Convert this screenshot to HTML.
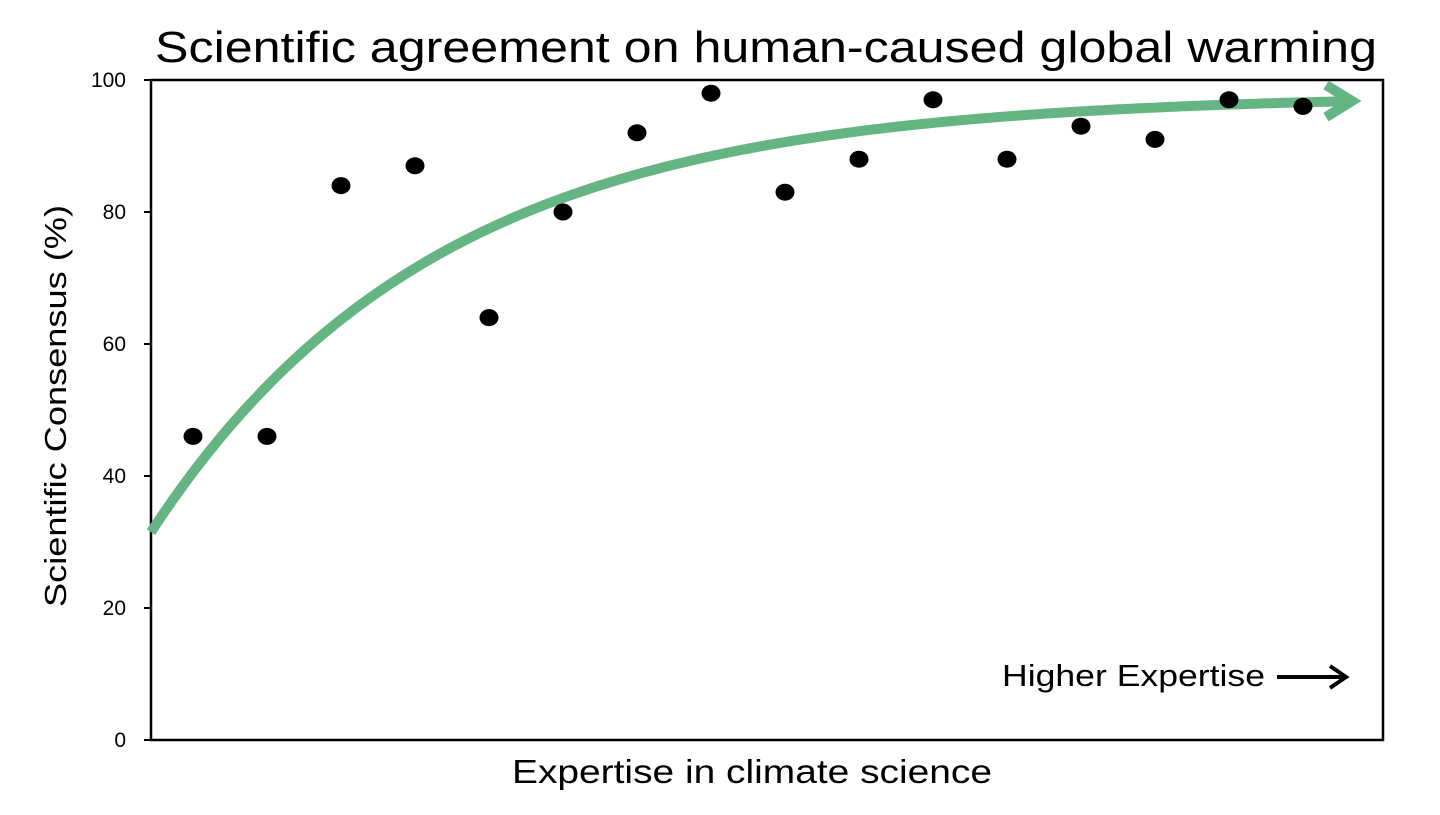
<!DOCTYPE html>
<html><head><meta charset="utf-8"><style>
html,body{margin:0;padding:0;background:#fff;}
svg text{font-family:"Liberation Sans",sans-serif;fill:#000;}
</style></head><body>
<svg id="chart" width="1440" height="810" viewBox="0 0 1440 810">
<text x="155" y="62" font-size="44" textLength="1222" lengthAdjust="spacingAndGlyphs">Scientific agreement on human-caused global warming</text>
<g id="axes"></g>
<g id="curve"></g>
<g id="points"></g>
<text x="1002" y="686" font-size="31" textLength="263" lengthAdjust="spacingAndGlyphs">Higher Expertise</text>
<g stroke="#000" stroke-width="4" fill="none">
<line x1="1277" y1="677" x2="1345" y2="677"/>
<polyline points="1330,666 1346,677 1330,688"/>
</g>
<text x="512" y="783" font-size="33" textLength="480" lengthAdjust="spacingAndGlyphs">Expertise in climate science</text>
<text transform="translate(66,607) rotate(-90)" font-size="31" textLength="402" lengthAdjust="spacingAndGlyphs">Scientific Consensus (%)</text>
</svg>
<script>
const categories = [1,2,3,4,5,6,7,8,9,10,11,12,13,14,15,16];
const consensus = [46,46,84,87,64,80,92,98,83,88,97,88,93,91,97,96];
const yTicks = [0,20,40,60,80,100];
const trendAsymptote = 97.8, trendStart = 31.5, trendRate = 0.0035;
const NS="http://www.w3.org/2000/svg";
const L=151,R=1383,T=80,B=740;
const xs=i=>193+(i-1)*74;
const ys=v=>B-(v/100)*(B-T);
const axes=document.getElementById('axes');
function mk(tag,attrs,parent){const e=document.createElementNS(NS,tag);for(const k in attrs)e.setAttribute(k,attrs[k]);parent.appendChild(e);return e;}
const frame=mk('rect',{x:L,y:T,width:R-L,height:B-T,fill:'none',stroke:'#000','stroke-width':2.5},axes);


yTicks.forEach(v=>{
  const t=mk('line',{x1:L-7,x2:L,y1:ys(v),y2:ys(v),stroke:'#000','stroke-width':2},axes);
  
  
  const lb=mk('text',{x:L-25,y:ys(v)+7,'font-size':21,'text-anchor':'end'},axes);
  lb.textContent=v;
  
  
});
let d='';
for(let x=L;x<=1352;x+=4){
  const v=trendAsymptote-(trendAsymptote-trendStart)*Math.exp(-trendRate*(x-L));
  d+=(x===L?'M':'L')+x+','+ys(v).toFixed(1)+' ';
}
const cg=document.getElementById('curve');
const cp=mk('path',{d:d,fill:'none',stroke:'#64b484','stroke-width':10},cg);


const endV=trendAsymptote-(trendAsymptote-trendStart)*Math.exp(-trendRate*(1352-L));
const ey=ys(endV);
const ah=mk('polyline',{points:`1326,${ey-16} 1352,${ey} 1326,${ey+16}`,fill:'none',stroke:'#64b484','stroke-width':10},cg);


const pg=document.getElementById('points');
categories.forEach((c,i)=>{
  const p=mk('ellipse',{cx:xs(c),cy:ys(consensus[i]),rx:9.5,ry:8.5,fill:'#000'},pg);
  
  
});
</script>
</body></html>
